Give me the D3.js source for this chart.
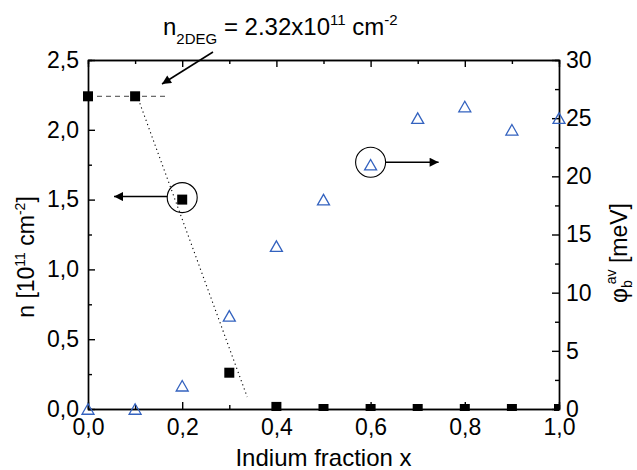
<!DOCTYPE html>
<html>
<head>
<meta charset="utf-8">
<script src="https://cdn.jsdelivr.net/npm/d3@7"></script>
<style>
  html, body { margin: 0; padding: 0; background: #fff; }
  svg { display: block; font-family: "Liberation Sans", Arial, sans-serif; }
  .axis path, .axis line { stroke: #000; stroke-width: 1.4; }
  .axis text { font-size: 23px; fill: #000; font-family: "Liberation Sans", Arial, sans-serif; }
</style>
</head>
<body>
<div id="chart"></div>
<script>
const W = 637, H = 470;
const M = { top: 60, right: 78, bottom: 61, left: 88 };

// Indium fraction x
const xVals = [0.0, 0.1, 0.2, 0.3, 0.4, 0.5, 0.6, 0.7, 0.8, 0.9, 1.0];
// n [10^11 cm^-2] (left axis, filled squares)
const nVals = [2.24, 2.24, 1.5, 0.26, 0.015, 0, 0, 0, 0, 0, 0];
// phi_b^av [meV] (right axis, open triangles)
const phiVals = [0, 0, 2, 8, 14, 18, 21, 25, 26, 24, 25];

const xTicks = [0, 0.2, 0.4, 0.6, 0.8, 1.0];
const nTicks = [0, 0.5, 1.0, 1.5, 2.0, 2.5];
const phiTicks = [0, 5, 10, 15, 20, 25, 30];

const n2deg = 2.24;            // dashed reference level
const fitLine = [[0.11, 2.19], [0.338, 0.086]];

const innerW = W - M.left - M.right;
const innerH = H - M.top - M.bottom;

const svg = d3.select('#chart').append('svg').attr('width', W).attr('height', H);
const defs = svg.append('defs');
defs.append('marker').attr('id', 'arr')
  .attr('viewBox', '0 0 10 10').attr('refX', 10).attr('refY', 5)
  .attr('markerUnits', 'userSpaceOnUse').attr('markerWidth', 11).attr('markerHeight', 9)
  .attr('orient', 'auto')
  .append('path').attr('d', 'M0,0 L10,5 L0,10 Z').attr('fill', '#000');
defs.append('clipPath').attr('id', 'clipSq')
  .append('rect').attr('x', -20).attr('y', -20).attr('width', innerW + 20).attr('height', innerH + 22);

const g = svg.append('g').attr('transform', `translate(${M.left},${M.top})`);

const x = d3.scaleLinear().domain([0, 1]).range([0, innerW]);
const yL = d3.scaleLinear().domain([0, 2.5]).range([innerH, 0]);
const yR = d3.scaleLinear().domain([0, 30]).range([innerH, 0]);

const comma = (f) => (d) => d3.format(f)(d).replace('.', ',');

// minor ticks
g.append('g').attr('class', 'axis').attr('transform', `translate(0,${innerH})`)
  .call(d3.axisBottom(x).tickValues(d3.range(0.1, 1, 0.2)).tickSize(-4).tickFormat(''));
g.append('g').attr('class', 'axis')
  .call(d3.axisTop(x).tickValues(d3.range(0.1, 1, 0.2)).tickSize(-4).tickFormat(''));
g.append('g').attr('class', 'axis')
  .call(d3.axisLeft(yL).tickValues(d3.range(0.25, 2.5, 0.5)).tickSize(-4).tickFormat(''));
g.append('g').attr('class', 'axis').attr('transform', `translate(${innerW},0)`)
  .call(d3.axisRight(yR).tickValues(d3.range(2.5, 30, 5)).tickSize(-4).tickFormat(''));

// major axes
g.append('g').attr('class', 'axis').attr('transform', `translate(0,${innerH})`)
  .call(d3.axisBottom(x).tickValues(xTicks).tickSize(-7).tickSizeOuter(0).tickPadding(10).tickFormat(comma('.1f')));
g.append('g').attr('class', 'axis')
  .call(d3.axisTop(x).tickValues(xTicks).tickSize(-7).tickSizeOuter(0).tickFormat(''));
g.append('g').attr('class', 'axis')
  .call(d3.axisLeft(yL).tickValues(nTicks).tickSize(-7).tickSizeOuter(0).tickPadding(9).tickFormat(comma('.1f')));
g.append('g').attr('class', 'axis').attr('transform', `translate(${innerW},0)`)
  .call(d3.axisRight(yR).tickValues(phiTicks).tickSize(-7).tickSizeOuter(0).tickPadding(7).tickFormat(d3.format('d')));
g.selectAll('.axis .domain').attr('stroke-width', 1.6);

// dashed level line and dotted fit
g.append('line')
  .attr('x1', x(0)).attr('x2', x(0.17)).attr('y1', yL(n2deg)).attr('y2', yL(n2deg))
  .attr('stroke', '#444').attr('stroke-width', 1).attr('stroke-dasharray', '5,4');
g.append('line')
  .attr('x1', x(fitLine[0][0])).attr('y1', yL(fitLine[0][1]))
  .attr('x2', x(fitLine[1][0])).attr('y2', yL(fitLine[1][1]))
  .attr('stroke', '#000').attr('stroke-width', 1.1).attr('stroke-dasharray', '1.2,3.2');

// squares
const sq = 10;
g.append('g').attr('clip-path', 'url(#clipSq)')
  .selectAll('rect').data(xVals).join('rect')
  .attr('x', (d) => x(d) - sq / 2)
  .attr('y', (d, i) => yL(nVals[i]) - sq / 2)
  .attr('width', sq).attr('height', sq).attr('fill', '#000');

// triangles
const tw = 12, th = 10.5;
g.append('g').selectAll('path').data(xVals).join('path')
  .attr('d', (d, i) => {
    const cx = x(d), cy = yR(phiVals[i]);
    return `M${cx - tw / 2},${cy + th / 2} L${cx + tw / 2},${cy + th / 2} L${cx},${cy - th / 2} Z`;
  })
  .attr('fill', 'none').attr('stroke', '#3362bf').attr('stroke-width', 1.3);

// series markers: circles and arrows pointing to their axis
const cL = { x: x(0.2), y: yL(1.5) - 2 };
g.append('circle').attr('cx', cL.x).attr('cy', cL.y).attr('r', 15)
  .attr('fill', 'none').attr('stroke', '#000').attr('stroke-width', 1.1);
g.append('line').attr('x1', cL.x - 15).attr('y1', cL.y - 1).attr('x2', 26).attr('y2', cL.y - 1)
  .attr('stroke', '#000').attr('stroke-width', 1.5).attr('marker-end', 'url(#arr)');

const cR = { x: x(0.6), y: yR(21) - 2.5 };
g.append('circle').attr('cx', cR.x).attr('cy', cR.y).attr('r', 15)
  .attr('fill', 'none').attr('stroke', '#000').attr('stroke-width', 1.1);
g.append('line').attr('x1', cR.x + 15).attr('y1', cR.y).attr('x2', cR.x + 68).attr('y2', cR.y)
  .attr('stroke', '#000').attr('stroke-width', 1.5).attr('marker-end', 'url(#arr)');

// annotation
const ann = svg.append('text').attr('x', 163).attr('y', 35)
  .attr('font-size', 24).attr('fill', '#000');
ann.append('tspan').text('n');
ann.append('tspan').attr('font-size', 15).attr('dy', 9).text('2DEG');
ann.append('tspan').attr('dy', -9).text(' = 2.32x10');
ann.append('tspan').attr('font-size', 15).attr('dy', -10).text('11');
ann.append('tspan').attr('dy', 10).text(' cm');
ann.append('tspan').attr('font-size', 15).attr('dy', -10).text('-2');
svg.append('line').attr('x1', 213).attr('y1', 52).attr('x2', 162).attr('y2', 84)
  .attr('stroke', '#000').attr('stroke-width', 1.5).attr('marker-end', 'url(#arr)');

// axis titles
svg.append('text').attr('x', M.left + innerW / 2).attr('y', 466)
  .attr('text-anchor', 'middle').attr('font-size', 24).text('Indium fraction x');

const tl = svg.append('text').attr('transform', 'translate(34,257) rotate(-90)')
  .attr('text-anchor', 'middle').attr('font-size', 23);
tl.append('tspan').text('n [10');
tl.append('tspan').attr('font-size', 14).attr('dy', -9).text('11');
tl.append('tspan').attr('dy', 9).text(' cm');
tl.append('tspan').attr('font-size', 14).attr('dy', -9).text('-2');
tl.append('tspan').attr('dy', 9).text(']');

const tr = svg.append('text').attr('transform', 'translate(627,253) rotate(-90)')
  .attr('text-anchor', 'middle').attr('font-size', 23);
tr.append('tspan').text('φ');
tr.append('tspan').attr('font-size', 14).attr('dy', 5).text('b');
tr.append('tspan').attr('font-size', 14).attr('dy', -16).attr('dx', -4).text('av');
tr.append('tspan').attr('dy', 11).text(' [meV]');
</script>
</body>
</html>
